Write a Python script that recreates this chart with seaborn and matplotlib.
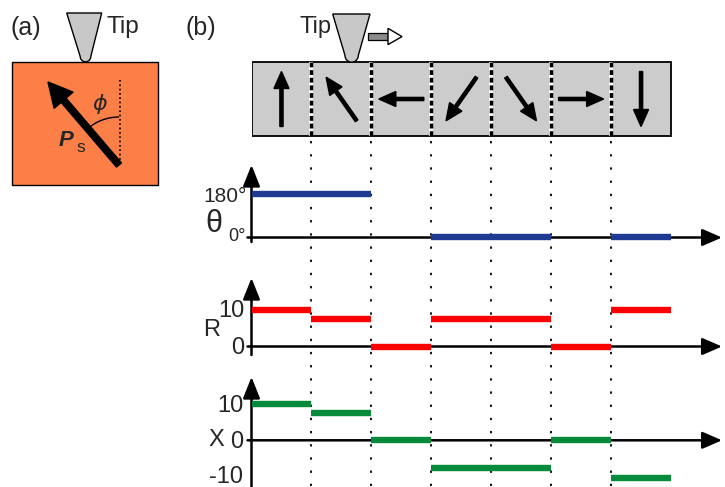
import numpy as np
import pandas as pd
import matplotlib
matplotlib.use("Agg")
import matplotlib.pyplot as plt
import matplotlib.patches as mpatches
import seaborn as sns

# ---------------- data ----------------
domains = ["up", "up-left", "left", "down-left", "down-right", "right", "down"]
angles = [90, 125, 180, 235, 305, 0, 270]          # polarization direction (deg)
theta_vals = [180, 180, np.nan, 0, 0, np.nan, 0]
r_vals = [10, 7.3, 0, 7.3, 7.3, 0, 10]
x_vals = [10, 7.4, 0, -7.6, -7.6, 0, -10.2]
theta_ticks = [180, 0]
theta_ticklabels = ["180°", "0°"]
r_ticks = [10, 0]
r_ticklabels = ["10", "0"]
x_ticks = [10, 0, -10]
x_ticklabels = ["10", "0", "-10"]

sns.set_theme(style="white")
plt.rcParams["font.family"] = ["Liberation Sans", "DejaVu Sans"]
plt.rcParams["mathtext.fontset"] = "dejavusans"

W, H = 725, 487
X0 = 251.5          # pixel of domain position 0
SW = 59.93          # pixels per domain
XR = (W - X0) / SW  # right limit in domain units

fig = plt.figure(figsize=(W / 100, H / 100), dpi=100)
fig.patch.set_facecolor("white")

# ---------------- guide axes (bar + dotted boundaries) ----------------
gx = fig.add_axes([X0 / W, 0, (W - X0) / W, 1])
gx.set_xlim(0, XR)
gx.set_ylim(H, 0)
gx.axis("off")
n = len(domains)
gx.add_patch(mpatches.Rectangle((0, 61.7), n, 74.3, facecolor="#cccccc",
                                edgecolor="black", lw=1.3, zorder=1))
bounds = np.arange(1, n)
gx.vlines(bounds, 61.7, 136, color="white", lw=2.8, zorder=2)
gx.vlines(bounds, 61.7, 136, color="black", lw=2.5, linestyles=[(0, (1.4, 0.8))], zorder=3)
gx.vlines(bounds, 141, H, color="black", lw=1.3, linestyles=[(0, (1.3, 6.0))], zorder=1)


def add_panel(top, bot, zero_px, ppu):
    ax = fig.add_axes([X0 / W, 1 - bot / H, (W - X0) / W, (bot - top) / H])
    ax.set_facecolor("none")
    return ax, (zero_px - bot) / ppu, (zero_px - top) / ppu, ppu


def seg_df(vals):
    rows = []
    for i, v in enumerate(vals):
        if not np.isnan(v):
            rows.append((i, v, i))
            rows.append((i + 1, v, i))
    return pd.DataFrame(rows, columns=["pos", "value", "seg"])


def draw_panel(ax, ylo, yhi, ppu, vals, color, arrow_top_px, zero_px, yaxis_bot):
    sns.lineplot(data=seg_df(vals), x="pos", y="value", units="seg", estimator=None,
                 color=color, lw=4.6, ax=ax, legend=False, sort=False,
                 solid_capstyle="butt", zorder=4)
    ax.set_xlim(0, XR)
    ax.set_ylim(ylo, yhi)
    ax.axis("off")
    top_val = (zero_px - arrow_top_px) / ppu
    ax.annotate("", xy=(0, top_val), xytext=(0, yaxis_bot),
                arrowprops=dict(arrowstyle="-|>,head_length=0.65,head_width=0.26",
                                lw=1.8, color="black", mutation_scale=20,
                                shrinkA=0, shrinkB=0), annotation_clip=False, zorder=2)
    ax.annotate("", xy=((722 - X0) / SW, 0), xytext=(-4 / SW, 0),
                arrowprops=dict(arrowstyle="-|>,head_length=0.6,head_width=0.26",
                                lw=1.8, color="black", mutation_scale=20,
                                shrinkA=0, shrinkB=0), annotation_clip=False, zorder=2)


# theta panel
axT, lo, hi, ppu = add_panel(160, 245, 237.5, 43.5 / 180)
draw_panel(axT, lo, hi, ppu, theta_vals, "#1f3a93", 165, 237.5, (237.5 - 242) / ppu)
axT.text(-5 / SW, theta_ticks[0], theta_ticklabels[0], ha="right", va="center_baseline",
         fontsize=15, clip_on=False)
axT.text(-6 / SW, 14, theta_ticklabels[1], ha="right", va="center_baseline",
         fontsize=13, clip_on=False)
axT.text(-38 / SW, (237.5 - 221) / ppu, "θ", ha="center", va="center_baseline",
         fontsize=22, clip_on=False)

# R panel
axR, lo, hi, ppu = add_panel(270, 360, 346.5, 3.7)
draw_panel(axR, lo, hi, ppu, r_vals, "#ff0000", 278, 346.5, (346.5 - 355) / ppu)
for t, lab in zip(r_ticks, r_ticklabels):
    axR.text(-7 / SW, t + 0.3, lab, ha="right", va="center_baseline", fontsize=17, clip_on=False)
axR.text(-40 / SW, (346.5 - 328) / ppu, "R", ha="center", va="center_baseline",
         fontsize=17, clip_on=False)

# X panel
axX, lo, hi, ppu = add_panel(370, H, 440.3, 3.65)
draw_panel(axX, lo, hi, ppu, x_vals, "#078a3c", 377, 440.3, (440.3 - H - 5) / ppu)
for t, lab in zip(x_ticks, x_ticklabels):
    yoff = 0.2 if t >= 0 else 0.6
    axX.text(-8 / SW, t + yoff, lab, ha="right", va="center_baseline", fontsize=17,
             clip_on=False)
axX.text(-35 / SW, (440.3 - 437.5) / ppu, "X", ha="center", va="center_baseline",
         fontsize=17, clip_on=False)

# ---------------- overlay (pixel coordinates) ----------------
ov = fig.add_axes([0, 0, 1, 1])
ov.set_xlim(0, W)
ov.set_ylim(H, 0)
ov.axis("off")
ov.set_facecolor("none")


def tip_poly(xl, xr, y_top, xbl, xbr, y_arc):
    cx, r = (xbl + xbr) / 2, (xbr - xbl) / 2
    t = np.linspace(np.pi, 0, 20)
    arc = np.column_stack([cx + r * np.cos(t), y_arc + r * np.sin(t)])
    pts = np.vstack([[xl, y_top], arc, [xr, y_top]])
    return mpatches.Polygon(pts, closed=True, facecolor="#c8c8c8", edgecolor="black",
                            lw=1.0, zorder=6)


# panel (a)
ov.add_patch(mpatches.Rectangle((11.7, 61.7), 146, 123.3, facecolor="#fc7f48",
                                edgecolor="black", lw=1.0, zorder=3))
ov.add_patch(tip_poly(66.7, 101.7, 13, 80.2, 90.8, 56.5))
ov.plot([120, 120], [80, 165], color="black", lw=1.2, ls=(0, (1, 1.6)), zorder=4)
ov.add_patch(mpatches.Arc((119, 165), 96, 96, theta1=229, theta2=270, color="black",
                          lw=1.0, zorder=4))
ov.add_patch(mpatches.FancyArrow(119, 165, -71, -83, width=6.5, head_width=25,
                                 head_length=24, length_includes_head=True,
                                 color="black", zorder=5))
ov.text(100, 104, r"$\phi$", ha="center", va="center", fontsize=16, zorder=6)
ov.text(66, 141, "P", ha="center", va="center", fontsize=16, fontweight="bold",
        fontstyle="italic", zorder=6)
ov.text(81, 148, "s", ha="center", va="center", fontsize=12.5, zorder=6)
ov.text(11, 28, "(a)", ha="left", va="center", fontsize=18)
ov.text(107, 27, "Tip", ha="left", va="center", fontsize=17.5)

# panel (b)
ov.text(186, 28, "(b)", ha="left", va="center", fontsize=18)
ov.text(300, 27, "Tip", ha="left", va="center", fontsize=17)
ov.add_patch(tip_poly(332.7, 370, 14, 345, 358.3, 55.5))
ov.add_patch(mpatches.Rectangle((368.3, 33.3), 20, 6.7, facecolor="#8c8c8c",
                                edgecolor="black", lw=0.9, zorder=6))
ov.add_patch(mpatches.Polygon([[388, 28.3], [402, 36.6], [388, 44.6]], closed=True,
                              facecolor="white", edgecolor="black", lw=1.0, zorder=6))

# domain arrows
for i, a in enumerate(angles):
    cx = X0 + (i + 0.5) * SW
    cy = 99
    L = 45 + 10 * abs(np.sin(np.radians(a)))
    dx, dy = L * np.cos(np.radians(a)), -L * np.sin(np.radians(a))
    ov.add_patch(mpatches.FancyArrow(cx - dx / 2, cy - dy / 2, dx, dy, width=3.2,
                                     head_width=15, head_length=17,
                                     length_includes_head=True, color="black", zorder=7))

fig.savefig("out.png", dpi=100)
